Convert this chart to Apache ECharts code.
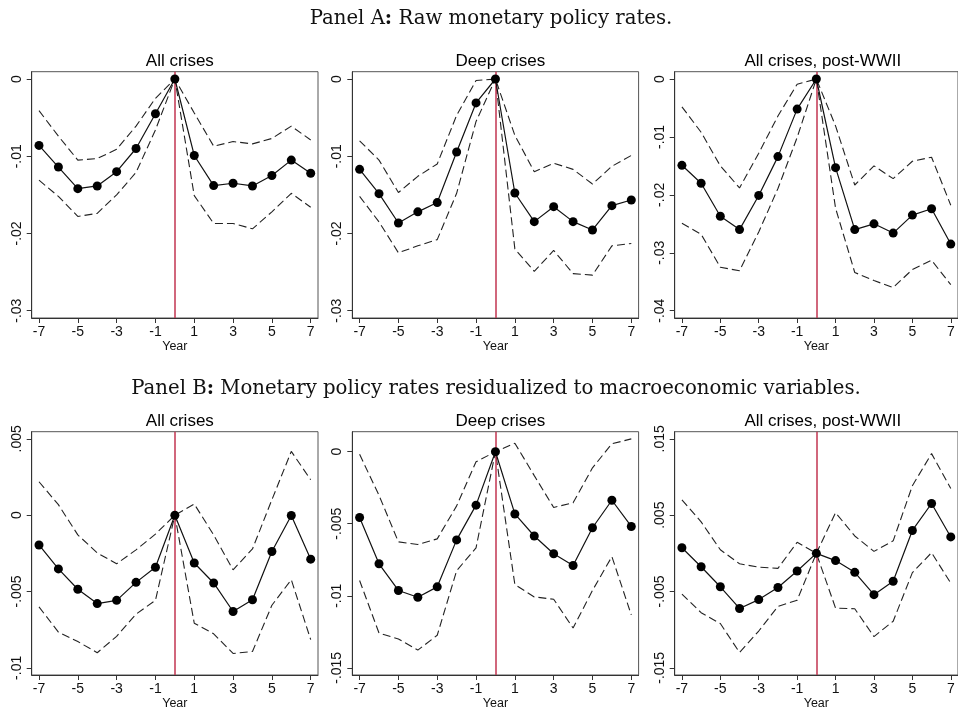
<!DOCTYPE html>
<html>
<head>
<meta charset="utf-8">
<script src="https://cdn.jsdelivr.net/npm/echarts@6/dist/echarts.min.js"></script>
<style>
  html, body { margin: 0; padding: 0; background: #fff; }
  #chart { width: 958px; height: 711px; }
</style>
</head>
<body>
<div id="chart"></div>
<script>
// ---------------- DATA ----------------
const years = [-7, -6, -5, -4, -3, -2, -1, 0, 1, 2, 3, 4, 5, 6, 7];
const xTicks = [-7, -5, -3, -1, 1, 3, 5, 7];

const panelTitles = ['All crises', 'Deep crises', 'All crises, post-WWII'];

// Panel A: Raw monetary policy rates
const aAllPoint = [-0.0086, -0.0114, -0.0142, -0.01385, -0.0120, -0.0090, -0.0045, 0, -0.0099, -0.0138, -0.0135, -0.01385, -0.0125, -0.0105, -0.0122];
const aAllUpper = [-0.0041, -0.0074, -0.0105, -0.0103, -0.0091, -0.0061, -0.0025, 0, -0.0044, -0.0087, -0.0081, -0.0084, -0.0077, -0.0061, -0.0079];
const aAllLower = [-0.0131, -0.0152, -0.0178, -0.0174, -0.0150, -0.0121, -0.0066, 0, -0.0151, -0.0187, -0.0187, -0.0194, -0.0172, -0.0148, -0.0166];

const aDeepPoint = [-0.0117, -0.01485, -0.01865, -0.0172, -0.0160, -0.00945, -0.0031, 0, -0.01476, -0.01847, -0.01653, -0.01847, -0.01955, -0.0164, -0.01567];
const aDeepUpper = [-0.0080, -0.0105, -0.0147, -0.0126, -0.0110, -0.0047, -0.0002, 0, -0.0073, -0.0120, -0.0109, -0.0117, -0.0136, -0.0113, -0.0099];
const aDeepLower = [-0.0152, -0.0185, -0.0225, -0.0216, -0.0208, -0.0148, -0.0055, 0, -0.0220, -0.0249, -0.0222, -0.0252, -0.0254, -0.0216, -0.0213];

const aPostPoint = [-0.0149, -0.0180, -0.0237, -0.0260, -0.0201, -0.0134, -0.0052, 0, -0.0153, -0.0260, -0.0250, -0.0266, -0.0235, -0.0224, -0.0285];
const aPostUpper = [-0.0048, -0.0092, -0.0150, -0.0188, -0.0128, -0.0064, -0.0009, 0, -0.0081, -0.0183, -0.0150, -0.0172, -0.0142, -0.0135, -0.0218];
const aPostLower = [-0.0249, -0.0268, -0.0325, -0.0331, -0.0264, -0.0189, -0.0101, 0, -0.0223, -0.0334, -0.0348, -0.0360, -0.0329, -0.0313, -0.0355];

// Panel B: residualized to macroeconomic variables
const bAllPoint = [-0.00195, -0.00352, -0.00485, -0.00579, -0.00558, -0.0044, -0.00341, 0, -0.00313, -0.00444, -0.00631, -0.00554, -0.00238, -0.00002, -0.00288];
const bAllUpper = [0.00219, 0.00069, -0.00129, -0.00247, -0.00318, -0.00227, -0.00124, 0, 0.00073, -0.00129, -0.00358, -0.00221, 0.00101, 0.00418, 0.00232];
const bAllLower = [-0.00601, -0.00766, -0.00828, -0.00901, -0.00794, -0.00648, -0.00558, 0, -0.00708, -0.00777, -0.00906, -0.00893, -0.0059, -0.00423, -0.00815];

const bDeepPoint = [-0.00457, -0.00778, -0.00963, -0.0101, -0.00938, -0.00612, -0.00371, 0, -0.00432, -0.00585, -0.00708, -0.0079, -0.00528, -0.00337, -0.00519];
const bDeepUpper = [-0.00018, -0.00303, -0.00626, -0.00644, -0.00605, -0.00376, -0.0007, 0, 0.00059, -0.00166, -0.00387, -0.00355, -0.00112, 0.00055, 0.00089];
const bDeepLower = [-0.00894, -0.01259, -0.0130, -0.01377, -0.01274, -0.00826, -0.00667, 0, -0.00922, -0.01008, -0.01024, -0.01224, -0.00963, -0.00728, -0.01133];

const bPostPoint = [0.00073, -0.00176, -0.00438, -0.00722, -0.00606, -0.00447, -0.00232, 0, -0.00095, -0.00249, -0.00541, -0.00365, 0.0030, 0.00653, 0.00215];
const bPostUpper = [0.0070, 0.00413, 0.00047, -0.00137, -0.0018, -0.00197, 0.00146, 0, 0.00533, 0.00228, 0.00026, 0.00164, 0.00885, 0.01307, 0.00851];
const bPostLower = [-0.00533, -0.00778, -0.0092, -0.01298, -0.01018, -0.00696, -0.00614, 0, -0.00717, -0.00726, -0.01091, -0.0089, -0.00253, 0.00009, -0.00391];

// y tick values per panel
const yTicksA1 = [0, -0.01, -0.02, -0.03];
const yTicksA2 = [0, -0.01, -0.02, -0.03];
const yTicksA3 = [0, -0.01, -0.02, -0.03, -0.04];
const yTicksB1 = [0.005, 0, -0.005, -0.01];
const yTicksB2 = [0, -0.005, -0.01, -0.015];
const yTicksB3 = [0.015, 0.005, -0.005, -0.015];

// ---------------- LAYOUT ----------------
const panels = [
  { title: panelTitles[0], p: aAllPoint,  u: aAllUpper,  l: aAllLower,  ticks: yTicksA1, row: 0, col: 0 },
  { title: panelTitles[1], p: aDeepPoint, u: aDeepUpper, l: aDeepLower, ticks: yTicksA2, row: 0, col: 1 },
  { title: panelTitles[2], p: aPostPoint, u: aPostUpper, l: aPostLower, ticks: yTicksA3, row: 0, col: 2 },
  { title: panelTitles[0], p: bAllPoint,  u: bAllUpper,  l: bAllLower,  ticks: yTicksB1, row: 1, col: 0 },
  { title: panelTitles[1], p: bDeepPoint, u: bDeepUpper, l: bDeepLower, ticks: yTicksB2, row: 1, col: 1 },
  { title: panelTitles[2], p: bPostPoint, u: bPostUpper, l: bPostLower, ticks: yTicksB3, row: 1, col: 2 }
];

const colLeft = [31.7, 352.3, 674.7];
const gridW = 286.3;
const rowTop = [71.7, 431.7];
const gridH = [246.3, 247.3];
const padPx = 7.3;

const sansFont = '"Liberation Sans", Arial, Helvetica, sans-serif';
const serifFont = '"DejaVu Serif", "Liberation Serif", serif';

function fmt(v) {
  if (Math.abs(v) < 1e-10) return '0';
  let s = String(+v.toFixed(4));
  return s.replace('0.', '.');
}

const grids = [], xAxes = [], yAxes = [], series = [], titles = [];

panels.forEach((pn, i) => {
  const left = colLeft[pn.col], top = rowTop[pn.row], h = gridH[pn.row];
  grids.push({ left: left, top: top, width: gridW, height: h, show: true, borderColor: '#555', borderWidth: 1, backgroundColor: 'transparent' });

  const xPad = 14 * padPx / (gridW - 2 * padPx);
  xAxes.push({
    gridIndex: i, type: 'value', min: -7 - xPad, max: 7 + xPad,
    name: 'Year', nameLocation: 'middle', nameGap: 22,
    nameTextStyle: { fontFamily: sansFont, fontSize: 12.5, color: '#111' },
    axisLine: { show: true, onZero: false, lineStyle: { color: '#333', width: 1 } },
    axisTick: { show: true, length: 5, customValues: xTicks, lineStyle: { color: '#333' } },
    axisLabel: { customValues: xTicks, margin: 7, fontFamily: sansFont, fontSize: 14, color: '#111', formatter: v => String(v) },
    splitLine: { show: false }
  });

  const allVals = pn.ticks.concat(pn.p, pn.u, pn.l);
  const lo = Math.min(...allVals), hi = Math.max(...allVals);
  const yPad = (hi - lo) * padPx / (h - 2 * padPx);
  yAxes.push({
    gridIndex: i, type: 'value', min: lo - yPad, max: hi + yPad,
    axisLine: { show: true, onZero: false, lineStyle: { color: '#333', width: 1 } },
    axisTick: { show: true, length: 5, customValues: pn.ticks, lineStyle: { color: '#333' } },
    axisLabel: { customValues: pn.ticks, rotate: 90, margin: 8, fontFamily: sansFont, fontSize: 14, color: '#111', formatter: fmt },
    splitLine: { show: false }
  });

  const pairs = arr => years.map((y, k) => [y, arr[k]]);
  const dashStyle = { color: '#222', width: 1.1, type: [8, 4] };
  series.push({
    type: 'line', xAxisIndex: i, yAxisIndex: i, data: pairs(pn.u), symbol: 'none',
    lineStyle: dashStyle, z: 2, animation: false, silent: true,
    markLine: {
      silent: true, symbol: 'none', label: { show: false },
      lineStyle: { color: '#c23450', width: 1.5, type: 'solid' },
      data: [{ xAxis: 0 }], animation: false
    }
  });
  series.push({
    type: 'line', xAxisIndex: i, yAxisIndex: i, data: pairs(pn.l), symbol: 'none',
    lineStyle: dashStyle, z: 2, animation: false, silent: true
  });
  series.push({
    type: 'line', xAxisIndex: i, yAxisIndex: i, data: pairs(pn.p), symbol: 'circle', symbolSize: 9,
    itemStyle: { color: '#000' }, lineStyle: { color: '#111', width: 1.2 }, z: 5, animation: false, silent: true
  });

  titles.push({
    text: pn.title, left: left + gridW / 2, top: top - 24, textAlign: 'center',
    textStyle: { fontFamily: sansFont, fontSize: 17, fontWeight: 'normal', color: '#000' }
  });
});

const richSerif = {
  n: { fontFamily: serifFont, fontSize: 19.7, fontWeight: 'normal', color: '#111' },
  b: { fontFamily: serifFont, fontSize: 19.7, fontWeight: 'bold', color: '#111' }
};
titles.push({
  text: '{n|Panel A}{b|:}{n| Raw monetary policy rates.}', left: 486, top: 4, textAlign: 'center',
  textStyle: { fontWeight: 'normal', rich: richSerif }
});
titles.push({
  text: '{n|Panel B}{b|:}{n| Monetary policy rates residualized to macroeconomic variables.}', left: 491, top: 374, textAlign: 'center',
  textStyle: { fontWeight: 'normal', rich: richSerif }
});

const chart = echarts.init(document.getElementById('chart'), null, { renderer: 'canvas' });
chart.setOption({
  backgroundColor: '#fff',
  animation: false,
  title: titles,
  grid: grids,
  xAxis: xAxes,
  yAxis: yAxes,
  series: series
});
</script>
</body>
</html>
